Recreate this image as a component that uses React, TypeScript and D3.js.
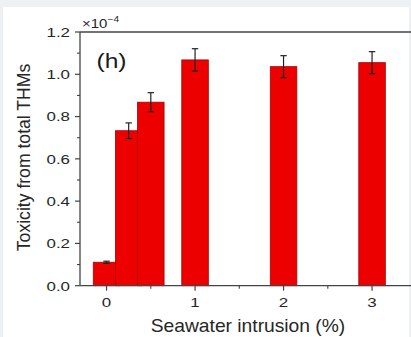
import React from "react";
import * as d3 from "d3";

// seawater intrusion (%) and toxicity (x1e-4)
const intrusion = [0, 0.25, 0.5, 1, 2, 3];
const toxicity = [0.111, 0.733, 0.868, 1.068, 1.036, 1.055];
const toxErr = [0.005, 0.037, 0.045, 0.053, 0.052, 0.052];
const xTicks = [0, 1, 2, 3];
const xMinor = [0.5, 1.5, 2.5];
const yTicks = [0, 0.2, 0.4, 0.6, 0.8, 1.0, 1.2];
const yMinor = [0.1, 0.3, 0.5, 0.7, 0.9, 1.1];

const W = 411;
const H = 337;
const left = 80;
const top = 32;
const bottom = 285.7;
const right = 416.3;
const barWidth = 0.3;
const font = "Arial, 'Liberation Sans', sans-serif";
const axisColor = "#444";
const textColor = "#262626";

export default function App() {
  const x = d3.scaleLinear().domain([-0.3, 3.5]).range([left, right]);
  const y = d3.scaleLinear().domain([0, 1.2]).range([bottom, top]);
  const bw = x(barWidth) - x(0);

  return (
    <svg
      width={W}
      height={H}
      style={{ position: "absolute", left: 0, top: 0 }}
      fontFamily={font}
    >
      <rect x={0} y={0} width={W} height={H} fill="#eef1f4" />
      <rect x={3} y={7} width={406} height={H - 7} fill="#ffffff" />

      {/* bars + error bars */}
      {intrusion.map((v, i) => {
        const cx = x(v);
        const hi = y(toxicity[i] + toxErr[i]);
        const lo = y(toxicity[i] - toxErr[i]);
        return (
          <g key={i}>
            <rect
              x={cx - bw / 2}
              y={y(toxicity[i])}
              width={bw}
              height={bottom - y(toxicity[i])}
              fill="#ec0000"
              stroke="#a30000"
              strokeWidth={0.8}
            />
            <line x1={cx} x2={cx} y1={hi} y2={lo} stroke="#222" strokeWidth={1.2} />
            <line x1={cx - 3.2} x2={cx + 3.2} y1={hi} y2={hi} stroke="#222" strokeWidth={1.2} />
            <line x1={cx - 3.2} x2={cx + 3.2} y1={lo} y2={lo} stroke="#222" strokeWidth={1.2} />
          </g>
        );
      })}

      {/* frame */}
      <line x1={left} x2={right} y1={top} y2={top} stroke={axisColor} strokeWidth={1.3} />
      <line x1={left} x2={right} y1={bottom} y2={bottom} stroke={axisColor} strokeWidth={1.3} />
      <line x1={left} x2={left} y1={top} y2={bottom} stroke={axisColor} strokeWidth={1.3} />

      {/* y axis */}
      {yTicks.map((t) => (
        <g key={"y" + t}>
          <line x1={left - 5} x2={left} y1={y(t)} y2={y(t)} stroke={axisColor} strokeWidth={1.2} />
          <text
            transform={`translate(70,${y(t) + 4.8}) scale(1.25,1)`}
            textAnchor="end"
            fontSize={13.5}
            fill={textColor}
          >
            {t.toFixed(1)}
          </text>
        </g>
      ))}
      {yMinor.map((t) => (
        <line key={"ym" + t} x1={left - 3} x2={left} y1={y(t)} y2={y(t)} stroke={axisColor} strokeWidth={1.1} />
      ))}

      {/* x axis */}
      {xTicks.map((t) => (
        <g key={"x" + t}>
          <line x1={x(t)} x2={x(t)} y1={bottom} y2={bottom + 5} stroke={axisColor} strokeWidth={1.2} />
          <text
            transform={`translate(${x(t)},306.8) scale(1.25,1)`}
            textAnchor="middle"
            fontSize={13.5}
            fill={textColor}
          >
            {t}
          </text>
        </g>
      ))}
      {xMinor.map((t) => (
        <line key={"xm" + t} x1={x(t)} x2={x(t)} y1={bottom} y2={bottom + 3} stroke={axisColor} strokeWidth={1.1} />
      ))}

      {/* titles */}
      <text
        transform={`translate(248,331.5) scale(1.1,1)`}
        textAnchor="middle"
        fontSize={17.5}
        fill={textColor}
      >
        Seawater intrusion (%)
      </text>
      <text
        transform={`translate(29.5,157.5) rotate(-90)`}
        textAnchor="middle"
        fontSize={17.6}
        fill={textColor}
      >
        Toxicity from total THMs
      </text>

      {/* exponent */}
      <text transform="translate(82,27.5) scale(1.2,1)" fontSize={12.5} fill={textColor}>
        ×10
        <tspan fontSize={8.5} dy={-6}>−4</tspan>
      </text>

      {/* panel label */}
      <text transform="translate(96.5,68) scale(1.2,1)" fontSize={20.5} fill="#1a1a1a">
        (h)
      </text>
    </svg>
  );
}
